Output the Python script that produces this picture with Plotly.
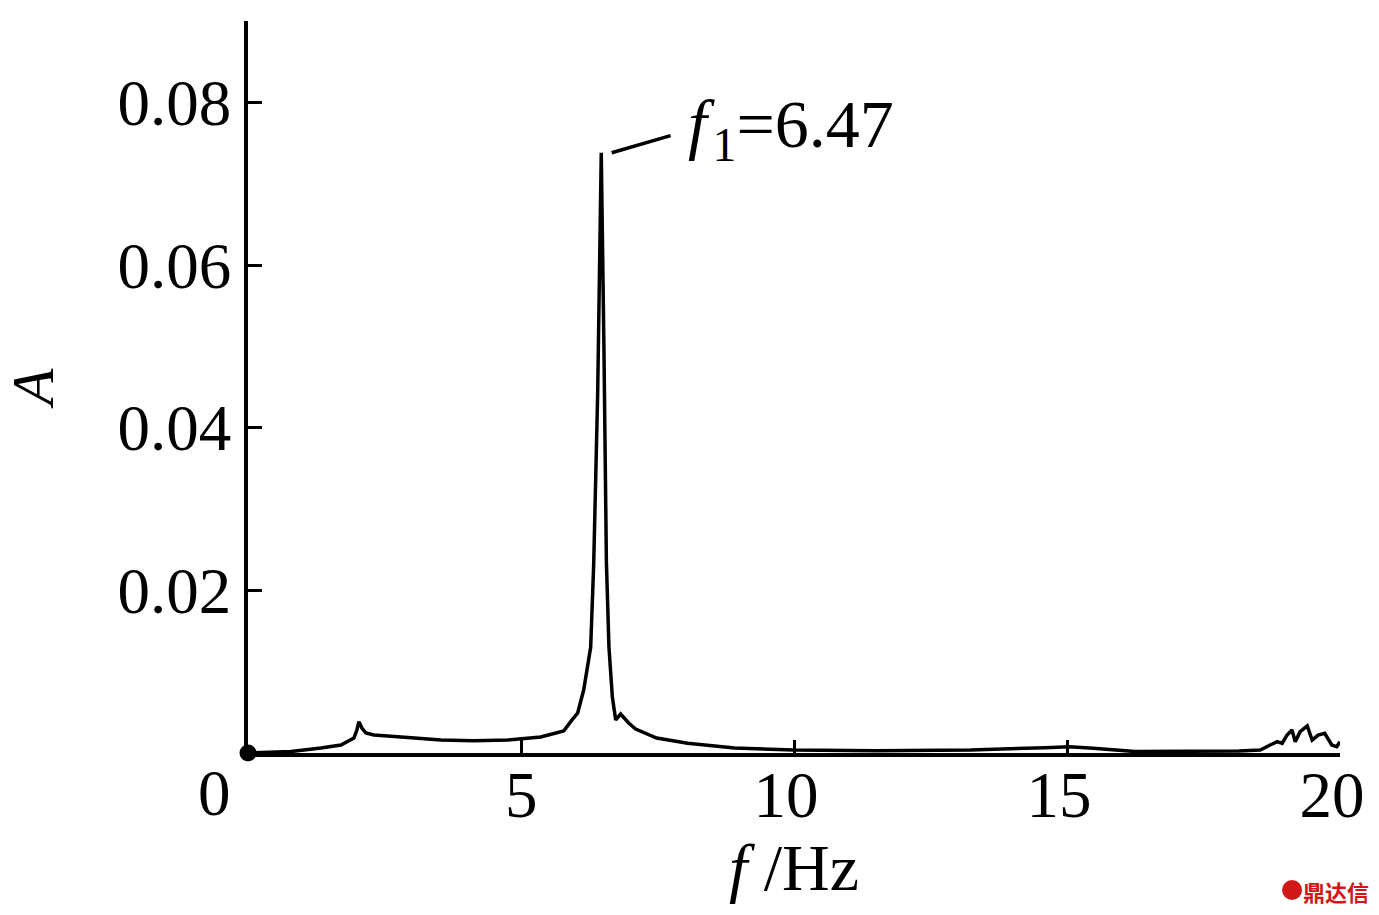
import plotly.graph_objects as go

# Frequency (Hz) and amplitude
freq = [0.0, 0.787, 1.336, 1.702, 1.940, 1.994, 2.031, 2.086, 2.159, 2.306, 2.928,
        3.532, 4.135, 4.758, 5.361, 5.782, 5.910, 6.038, 6.148, 6.276, 6.331, 6.404,
        6.450, 6.470, 6.520, 6.564, 6.611, 6.673, 6.734, 6.825, 6.972, 7.100, 7.484,
        8.051, 8.911, 9.991, 11.51, 13.23, 14.60, 15.04, 15.48, 16.25, 18.15, 18.54,
        18.72, 18.85, 18.94, 19.03, 19.12, 19.18, 19.27, 19.40, 19.49, 19.60, 19.72,
        19.85, 19.94, 20.0]
amp = [0.0, 0.00018, 0.00061, 0.00098, 0.00184, 0.00283, 0.00385, 0.00307, 0.00246,
       0.00221, 0.00191, 0.00160, 0.00151, 0.00160, 0.00197, 0.00270, 0.00385, 0.00492,
       0.00774, 0.0130, 0.0231, 0.0441, 0.0648, 0.0738, 0.0493, 0.0235, 0.0130, 0.00688,
       0.00406, 0.00479, 0.00369, 0.00295, 0.00184, 0.00119, 0.00061, 0.00037, 0.00028,
       0.00037, 0.00065, 0.00077, 0.00058, 0.00018, 0.00025, 0.00037, 0.00098, 0.00139,
       0.00119, 0.00221, 0.00283, 0.00139, 0.00262, 0.00332, 0.00160, 0.00221, 0.00242,
       0.00098, 0.00077, 0.00139]

x_ticks = [5, 10, 15, 20]
x_tick_labels = ["\u00a05", "10", "15", "20"]
y_ticks = [0.02, 0.04, 0.06, 0.08]
y_tick_labels = ["0.02", "0.04", "0.06", "0.08"]

origin_x = [0]
origin_y = [0]

peak_f = 6.47
peak_A = 0.0738

FONT = "Liberation Serif"

fig = go.Figure()
fig.add_trace(go.Scatter(x=freq, y=amp, mode="lines",
                         line=dict(color="black", width=3.5), showlegend=False,
                         hoverinfo="skip"))
fig.add_trace(go.Scatter(x=origin_x, y=origin_y, mode="markers",
                         marker=dict(color="black", size=17), showlegend=False,
                         cliponaxis=False, hoverinfo="skip"))

# leader line to the peak label
fig.add_shape(type="line", xref="x", yref="y",
              x0=peak_f + 0.19, y0=peak_A, x1=peak_f + 1.27, y1=peak_A + 0.0021,
              line=dict(color="black", width=3.5))
fig.add_annotation(x=peak_f + 1.55, y=peak_A + 0.003, xref="x", yref="y",
                   text="<i>f</i>\u200a<sub>1</sub>=6.47", showarrow=False,
                   xanchor="left", yanchor="middle",
                   font=dict(family=FONT, size=68, color="black"))
# origin label
fig.add_annotation(x=0, y=0, xref="x", yref="y", text="0", showarrow=False,
                   xanchor="center", yanchor="top", xshift=-34, yshift=-2,
                   font=dict(family=FONT, size=65, color="black"))
# watermark
fig.add_shape(type="circle", xref="paper", yref="paper",
              x0=(1282 - 247) / 1093, x1=(1302 - 247) / 1093,
              y0=-(880 - 753) / 732, y1=-(900 - 753) / 732,
              fillcolor="#d01818", line=dict(width=0))
fig.add_annotation(x=1.0, y=0.0, xref="paper", yref="paper", text="<b>鼎达信</b>",
                   showarrow=False, xanchor="right", yanchor="top",
                   xshift=31, yshift=-120,
                   font=dict(family="Noto Sans CJK SC", size=22, color="#d01818"))

fig.update_layout(
    width=1379, height=915,
    margin=dict(l=248, r=39, t=21, b=162, autoexpand=False),
    paper_bgcolor="white", plot_bgcolor="white",
    font=dict(family=FONT, size=65, color="black"),
    xaxis=dict(range=[0, 20], tickmode="array", tickvals=x_ticks, ticktext=x_tick_labels,
               ticks="inside", ticklen=13, tickwidth=2.5, tickcolor="black",
               showline=True, linewidth=3.5, linecolor="black", showgrid=False,
               zeroline=False, tickfont=dict(family=FONT, size=65), automargin=False,
               ticklabelstandoff=-18, ticklabelshift=-8,
               title=dict(text="<i>f</i> /Hz", font=dict(family=FONT, size=66))),
    yaxis=dict(range=[0, 0.09], tickmode="array", tickvals=y_ticks, ticktext=y_tick_labels,
               ticks="inside", ticklen=14, tickwidth=2.5, tickcolor="black",
               showline=True, linewidth=3.5, linecolor="black", showgrid=False,
               zeroline=False, tickfont=dict(family=FONT, size=65), automargin=False,
               title=dict(text="<i>A</i>", font=dict(family=FONT, size=60), standoff=50)),
)

fig.write_html("out.html", config={"displayModeBar": False},
               post_script="document.body.style.margin='0px';")
